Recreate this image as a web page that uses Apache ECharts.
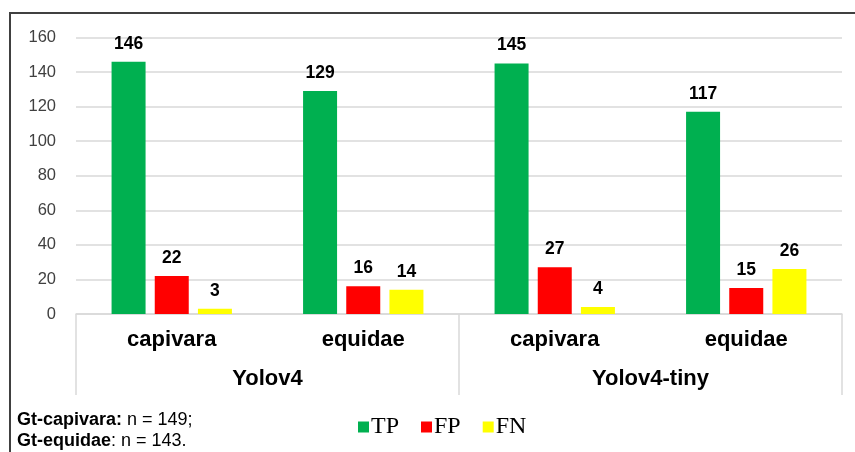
<!DOCTYPE html>
<html>
<head>
<meta charset="utf-8">
<script src="https://cdn.jsdelivr.net/npm/echarts@6/dist/echarts.min.js"></script>
<style>html,body{margin:0;padding:0;background:#fff}#c{width:855px;height:452px}</style>
</head>
<body>
<div id="c"></div>
<script>
var categories = ['capivara', 'equidae', 'capivara', 'equidae'];
var groups = ['Yolov4', 'Yolov4-tiny'];
var seriesNames = ['TP', 'FP', 'FN'];
var tpValues = [146, 129, 145, 117];
var fpValues = [22, 16, 27, 15];
var fnValues = [3, 14, 4, 26];
var yTicks = { min: 0, max: 160, interval: 20 };

var chart = echarts.init(document.getElementById('c'), null, { renderer: 'canvas' });
var sans = 'Liberation Sans, Arial, sans-serif';
var serif = 'Liberation Serif, Times New Roman, serif';
var colors = ['#00b050', '#ff0000', '#ffff00'];
var values = [tpValues, fpValues, fnValues];

var series = seriesNames.map(function (n, i) {
  return {
    name: n,
    type: 'bar',
    xAxisIndex: 0,
    data: values[i],
    barWidth: 34,
    barGap: '27%',
    itemStyle: { color: colors[i] },
    label: {
      show: true, position: 'top', distance: 9,
      fontFamily: sans, fontWeight: 'bold', fontSize: 17.5, color: '#000'
    }
  };
});

chart.setOption({
  animation: false,
  backgroundColor: '#fff',
  grid: { left: 76, right: 13, top: 37.5, bottom: 452 - 314 },
  legend: {
    data: seriesNames,
    left: 358, top: 415, padding: 0,
    icon: 'rect', itemWidth: 11, itemHeight: 11, itemGap: 22,
    textStyle: { fontFamily: serif, fontSize: 24, color: '#000', padding: [0, 0, 0, -3] }
  },
  xAxis: [
    {
      type: 'category', data: categories, position: 'bottom',
      axisLine: { show: true, lineStyle: { color: '#d9d9d9', width: 1.5 } },
      axisTick: { show: false },
      axisLabel: { margin: 15, fontFamily: sans, fontWeight: 'bold', fontSize: 22, color: '#000' }
    },
    {
      type: 'category', data: groups, position: 'bottom', gridIndex: 0,
      axisLine: { show: false },
      axisTick: { show: true, length: 81, lineStyle: { color: '#d9d9d9', width: 1.5 } },
      axisLabel: { margin: 54, fontFamily: sans, fontWeight: 'bold', fontSize: 22, color: '#000' }
    }
  ],
  yAxis: {
    type: 'value', min: yTicks.min, max: yTicks.max, interval: yTicks.interval,
    axisLine: { show: false }, axisTick: { show: false },
    axisLabel: { margin: 20, fontFamily: sans, fontSize: 16.5, color: '#404040' },
    splitLine: { lineStyle: { color: '#d9d9d9', width: 1.5 } }
  },
  series: series,
  graphic: [
    { type: 'polyline', shape: { points: [[10, 460], [10, 13], [860, 13]] },
      style: { stroke: '#404040', lineWidth: 2, fill: null }, silent: true },
    { type: 'text', left: 17, top: 411,
      style: {
        text: '{b|Gt-capivara:}{r|\u00a0n = 149;}\n{b|Gt-equidae}{r|: n = 143.}',
        rich: {
          b: { fontFamily: sans, fontWeight: 'bold', fontSize: 18, color: '#000', lineHeight: 21 },
          r: { fontFamily: sans, fontSize: 18, color: '#222', lineHeight: 21 }
        }
      } }
  ]
});
</script>
</body>
</html>
